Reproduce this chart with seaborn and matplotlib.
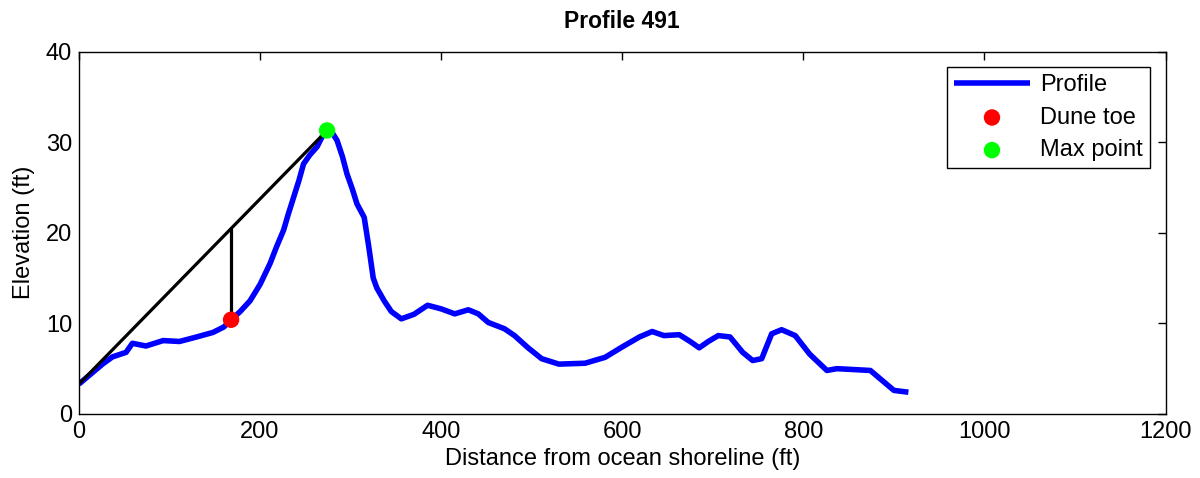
import numpy as np
import pandas as pd
import matplotlib
matplotlib.use("Agg")
import matplotlib.pyplot as plt
import seaborn as sns

# ---- data ----
distance_ft = [0, 13, 26, 37, 52, 59, 74, 93, 111, 130, 148, 160, 168, 178, 189, 200,
               211, 218, 226, 231, 237, 243, 248, 255, 263, 268, 274, 280, 285, 291,
               296, 302, 307, 315, 320, 325, 329, 337, 345, 356, 370, 385, 400,
               415, 430, 441, 452, 470, 481, 496, 511, 530, 559, 581, 600, 619,
               633, 646, 663, 675, 685, 695, 706, 719, 733, 744, 754, 765, 776,
               791, 807, 826, 837, 874, 900, 916]
elevation_ft = [3.3, 4.4, 5.5, 6.3, 6.8, 7.8, 7.5, 8.1, 8.0, 8.5, 9.0, 9.6, 10.4, 11.3,
                12.5, 14.3, 16.6, 18.4, 20.3, 22.0, 23.9, 25.8, 27.6, 28.6, 29.5, 30.5,
                31.3, 31.0, 30.2, 28.4, 26.5, 24.8, 23.2, 21.7, 18.5, 15.0, 13.9,
                12.5, 11.3, 10.5, 11.0, 12.0, 11.6, 11.05, 11.5, 11.05, 10.1, 9.4,
                8.65, 7.3, 6.1, 5.5, 5.6, 6.25, 7.4, 8.5, 9.1, 8.65, 8.75, 8.0, 7.3,
                8.0, 8.65, 8.5, 6.8, 5.9, 6.1, 8.85, 9.3, 8.65, 6.6, 4.8, 5.0, 4.8,
                2.6, 2.4]
dune_toe_distance = 168
x_ticks = [0, 200, 400, 600, 800, 1000, 1200]
y_ticks = [0, 10, 20, 30, 40]

df = pd.DataFrame({"Distance": distance_ft, "Elevation": elevation_ft})
toe_idx = distance_ft.index(dune_toe_distance)
max_idx = int(np.argmax(elevation_ft))
toe = df.iloc[[toe_idx]]
mx = df.iloc[[max_idx]]

sns.set_style("white")
plt.rcParams['font.family'] = ['Liberation Sans', 'DejaVu Sans']
plt.rcParams['text.color'] = 'black'
plt.rcParams['axes.labelcolor'] = 'black'
plt.rcParams['xtick.color'] = 'black'
plt.rcParams['ytick.color'] = 'black'

fig = plt.figure(figsize=(12, 4.78), dpi=100)
ax = fig.add_axes([0.0658, 0.134, 0.9055, 0.758])

# reference line from shoreline start to max point
x0, y0 = distance_ft[0], elevation_ft[0]
x1, y1 = distance_ft[max_idx], elevation_ft[max_idx]
ax.plot([x0, x1], [y0, y1], color="black", lw=2.3, zorder=3)
y_on_line = y0 + (y1 - y0) * (dune_toe_distance - x0) / (x1 - x0)
ax.plot([dune_toe_distance, dune_toe_distance],
        [elevation_ft[toe_idx], y_on_line], color="black", lw=2.3, zorder=3)

sns.lineplot(data=df, x="Distance", y="Elevation", sort=False, ax=ax,
             color="#0000ff", lw=4.0, label="Profile", zorder=2,
             solid_joinstyle="round", solid_capstyle="butt")
sns.scatterplot(data=toe, x="Distance", y="Elevation", ax=ax, color="#ff0000",
                s=140, edgecolor="none", label="Dune toe", zorder=4)
sns.scatterplot(data=mx, x="Distance", y="Elevation", ax=ax, color="#00ff00",
                s=140, edgecolor="none", label="Max point", zorder=4)

ax.set_xlim(0, 1200)
ax.set_ylim(0, 40)
ax.set_xticks(x_ticks)
ax.set_yticks(y_ticks)
ax.tick_params(direction="in", length=6, width=1, labelsize=17, top=True, right=True,
               labeltop=False, labelright=False, colors="black", pad=5)
for s in ax.spines.values():
    s.set_visible(True)
    s.set_color("black")
    s.set_linewidth(1)
ax.set_xlabel("Distance from ocean shoreline (ft)", fontsize=17, labelpad=4)
ax.set_ylabel("Elevation (ft)", fontsize=17, labelpad=8)
ax.set_title("Profile 491", fontsize=16.5, fontweight="bold", pad=17)

leg = ax.legend(loc="upper right", fontsize=17, frameon=True, fancybox=False,
                edgecolor="black", framealpha=1,
                handlelength=3.2, handletextpad=0.45, labelspacing=0.45,
                borderpad=0.3, borderaxespad=0.65)
leg.get_frame().set_linewidth(1)

fig.savefig("out.png", dpi=100)
